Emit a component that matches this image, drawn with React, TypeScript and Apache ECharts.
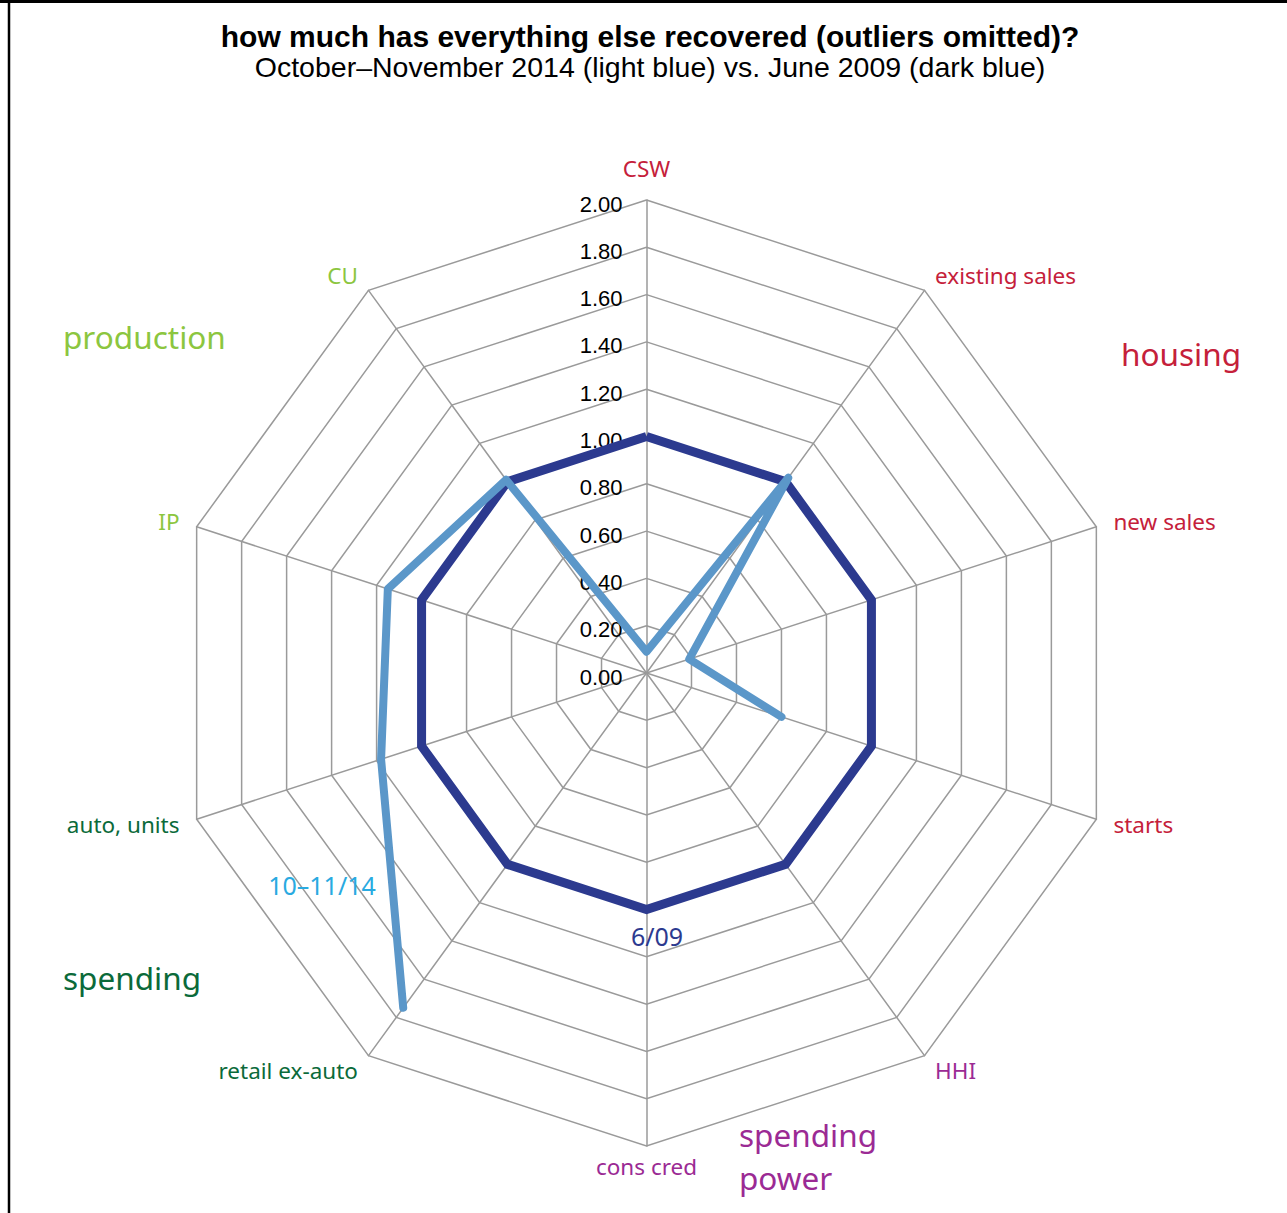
import React, { useEffect, useRef } from 'react';
import * as echarts from 'echarts';

// Indicators, clockwise from the top
const indicators = ['CSW', 'existing sales', 'new sales', 'starts', 'HHI', 'cons cred', 'retail ex-auto', 'auto, units', 'IP', 'CU'];
const indicatorGroup = ['housing', 'housing', 'housing', 'housing', 'power', 'power', 'spending', 'spending', 'production', 'production'];
const groupColor: Record<string, string> = {
  housing: '#c5203a',
  power: '#9b2a94',
  spending: '#0b6a3a',
  production: '#8cc63f',
};
// June 2009 (dark blue)
const june2009 = [1.0, 1.0, 1.0, 1.0, 1.0, 1.0, 1.0, 1.0, 1.0, 1.0];
// October–November 2014 (light blue), missing values = null
const octNov2014: (number | null)[] = [0.09, 1.02, 0.19, 0.6, null, null, 1.75, 1.18, 1.15, 1.01];

const radiusMin = 0;
const radiusMax = 2;
const radiusInterval = 0.2;

const CX = 646.5;
const CY = 673;
const R = 473;

export default function App() {
  const ref = useRef<HTMLDivElement>(null);
  useEffect(() => {
    if (!ref.current) return;
    const chart = echarts.init(ref.current, null, { renderer: 'svg' });
    const n = indicators.length;
    const step = 360 / n;

    // radar draws counterclockwise: top, then going left
    const radarOrder = [0];
    for (let i = n - 1; i >= 1; i--) radarOrder.push(i);

    const darkPath = june2009.map((v, i) => [v, i * step]);
    darkPath.push([june2009[0], 360]);

    // light path: start just after the gap, walk clockwise until next gap
    let start = 0;
    for (let i = 0; i < n; i++) {
      const prev = octNov2014[(i - 1 + n) % n];
      if (octNov2014[i] != null && prev == null) { start = i; break; }
    }
    const lightPath: number[][] = [];
    for (let k = 0; k < n; k++) {
      const i = (start + k) % n;
      const v = octNov2014[i];
      if (v == null) break;
      lightPath.push([v, i * step]);
    }

    // per-indicator rich styles (colour + line height to fine-tune top/bottom names)
    const rich: Record<string, any> = {};
    indicators.forEach((name, i) => {
      const angle = i * step;
      let lh = 23;
      if (angle === 0) lh = 28;
      else if (angle === 180) lh = 4;
      rich['n' + i] = {
        color: groupColor[indicatorGroup[i]],
        fontFamily: 'Noto Sans',
        fontSize: 22.5,
        lineHeight: lh,
      };
    });

    const groupFont = '31.5px "Noto Sans"';

    const option: any = {
      animation: false,
      backgroundColor: '#ffffff',
      title: {
        text: 'how much has everything else recovered (outliers omitted)?',
        subtext: 'October–November 2014 (light blue) vs. June 2009 (dark blue)',
        left: 645,
        top: 16,
        textAlign: 'center',
        itemGap: 1,
        textStyle: { fontFamily: 'Liberation Sans', fontWeight: 'bold', fontSize: 30, color: '#000' },
        subtextStyle: { fontFamily: 'Liberation Sans', fontSize: 28.5, color: '#000' },
      },
      radar: {
        center: [CX, CY],
        radius: R,
        startAngle: 90,
        splitNumber: 10,
        shape: 'polygon',
        nameGap: 18,
        axisName: {
          fontFamily: 'Noto Sans',
          fontSize: 22.5,
          formatter: (name: string) => `{n${indicators.indexOf(name)}|${name}}`,
          rich,
        },
        indicator: radarOrder.map((i) => ({
          name: indicators[i],
          min: radiusMin,
          max: radiusMax,
          color: groupColor[indicatorGroup[i]],
        })),
        axisLine: { lineStyle: { color: '#9a9a9a', width: 1.5 } },
        splitLine: { lineStyle: { color: '#9a9a9a', width: 1.5 } },
        splitArea: { show: false },
        axisTick: { show: false },
        axisLabel: { show: false },
      },
      polar: { center: [CX, CY], radius: R },
      angleAxis: {
        type: 'value', min: 0, max: 360, startAngle: 90, clockwise: true, show: false,
      },
      radiusAxis: {
        type: 'value',
        min: radiusMin,
        max: radiusMax,
        interval: radiusInterval,
        axisLine: { show: false },
        axisTick: { show: false },
        splitLine: { show: false },
        axisLabel: {
          formatter: (v: number) => v.toFixed(2),
          color: '#000',
          fontFamily: 'Liberation Sans',
          fontSize: 22,
          margin: 24,
          verticalAlign: 'top',
          lineHeight: 8,
        },
        z: 3,
      },
      series: [
        {
          name: 'June 2009',
          type: 'line',
          coordinateSystem: 'polar',
          data: darkPath,
          symbol: 'none',
          z: 10,
          lineStyle: { color: '#2c3a8f', width: 9, join: 'miter' },
        },
        {
          name: 'October–November 2014',
          type: 'line',
          coordinateSystem: 'polar',
          data: lightPath,
          symbol: 'none',
          z: 11,
          lineStyle: { color: '#5b97c9', width: 8, join: 'round', cap: 'round' },
        },
      ],
      graphic: [
        { type: 'line', shape: { x1: 0, y1: 1.5, x2: 1287, y2: 1.5 }, style: { stroke: '#000', lineWidth: 3 } },
        { type: 'line', shape: { x1: 9, y1: 0, x2: 9, y2: 1213 }, style: { stroke: '#000', lineWidth: 2.5 } },
        { type: 'text', x: 63, y: 336, style: { text: 'production', fill: groupColor.production, font: groupFont, lineHeight: 30, textVerticalAlign: 'middle' } },
        { type: 'text', x: 1121, y: 353, style: { text: 'housing', fill: groupColor.housing, font: groupFont, lineHeight: 30, textVerticalAlign: 'middle' } },
        { type: 'text', x: 63, y: 977, style: { text: 'spending', fill: groupColor.spending, font: groupFont, lineHeight: 30, textVerticalAlign: 'middle' } },
        { type: 'text', x: 739, y: 1134.5, style: { text: 'spending', fill: groupColor.power, font: groupFont, lineHeight: 30, textVerticalAlign: 'middle' } },
        { type: 'text', x: 739, y: 1177.5, style: { text: 'power', fill: groupColor.power, font: groupFont, lineHeight: 30, textVerticalAlign: 'middle' } },
        { type: 'text', x: 322, y: 885, z: 20, style: { text: '10–11/14', fill: '#29aae1', font: '25px "Noto Sans"', textAlign: 'center', textVerticalAlign: 'middle' } },
        { type: 'text', x: 657, y: 936, z: 20, style: { text: '6/09', fill: '#2c3a8f', font: '25px "Noto Sans"', textAlign: 'center', textVerticalAlign: 'middle' } },
      ],
    };
    chart.setOption(option);
    return () => chart.dispose();
  }, []);
  return <div ref={ref} style={{ position: 'absolute', left: 0, top: 0, width: 1287, height: 1213 }} />;
}
